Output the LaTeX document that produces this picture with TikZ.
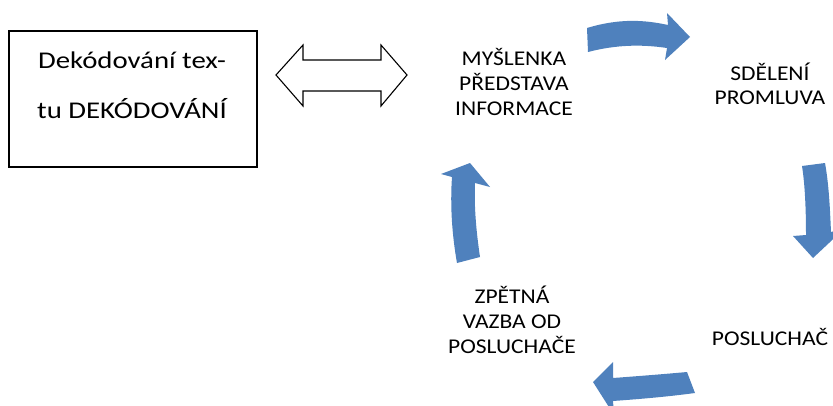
\documentclass[tikz,border=0pt]{standalone}
\usepackage{fontspec}
\newfontfamily\boxfont[FakeStretch=1.2]{Carlito}
\newfontfamily\lblfont[FakeStretch=1.12]{Carlito}
\definecolor{cycblue}{HTML}{4F81BD}
\tikzset{
  lbl/.style={anchor=base, align=center, font=\lblfont\fontsize{21}{25}\selectfont, inner sep=0pt},
  cyc/.style={fill=cycblue, draw=none},
  dbl/.style={draw=black, fill=white, line width=1.1pt, line join=miter},
}
\begin{document}
\begin{tikzpicture}[x=1pt,y=-1pt]
\useasboundingbox (0,0) rectangle (833,405);
\clip (0,0) rectangle (833,405);
% box
\node[draw=black, line width=1.4pt, minimum width=248pt, minimum height=136pt, inner sep=0pt] (box) at (133,99) {};
\node[anchor=base, font=\boxfont\fontsize{24}{50}\selectfont, inner sep=0pt] (t1) at (132,68) {Dekódování tex-};
\node[anchor=base, font=\boxfont\fontsize{24}{50}\selectfont, inner sep=0pt] (t2) at (132,118) {tu DEKÓDOVÁNÍ};
% double arrow
\path[dbl] (276,75) -- (303,45) -- (303,60) -- (381,60) -- (381,45) -- (407,75) -- (381,106) -- (381,91) -- (303,91) -- (303,106) -- cycle;
% labels
\node[lbl] (m1) at (514,65) {MYŠLENKA};
\node[lbl] (m2) at (514,90) {PŘEDSTAVA};
\node[lbl] (m3) at (514,115) {INFORMACE};
\node[lbl] (s1) at (770,80) {SDĚLENÍ};
\node[lbl] (s2) at (770,104) {PROMLUVA};
\node[lbl] (p1) at (770,345) {POSLUCHAČ};
\node[lbl] (z1) at (512,303) {ZPĚTNÁ};
\node[lbl] (z2) at (512,328) {VAZBA OD};
\node[lbl] (z3) at (512,353) {POSLUCHAČE};
% cycle arrows
\path[cyc] (587,28) .. controls (620,18) and (645,20) .. (668,25) -- (667,13) -- (690,37) -- (665,60) -- (667,48) .. controls (640,44) and (615,45) .. (588,52) -- cycle;
\path[cyc] (802,166) -- (825,163) .. controls (829,185) and (830,210) .. (831,232) -- (845,228) -- (813,258) -- (793,236) -- (806,235) .. controls (806,210) and (805,185) .. (802,166) -- cycle;
\path[cyc] (687,372) -- (695,393) .. controls (665,397) and (640,399) .. (613,401) -- (614,415) -- (593,382) -- (613,362) -- (613,378) .. controls (640,376) and (665,374) .. (687,372) -- cycle;
\path[cyc] (457,263) -- (480,257) .. controls (476,230) and (474,205) .. (475,183) -- (490,187) -- (470,163) -- (441,174) -- (452,177) .. controls (450,205) and (452,235) .. (457,263) -- cycle;
\end{tikzpicture}
\end{document}
